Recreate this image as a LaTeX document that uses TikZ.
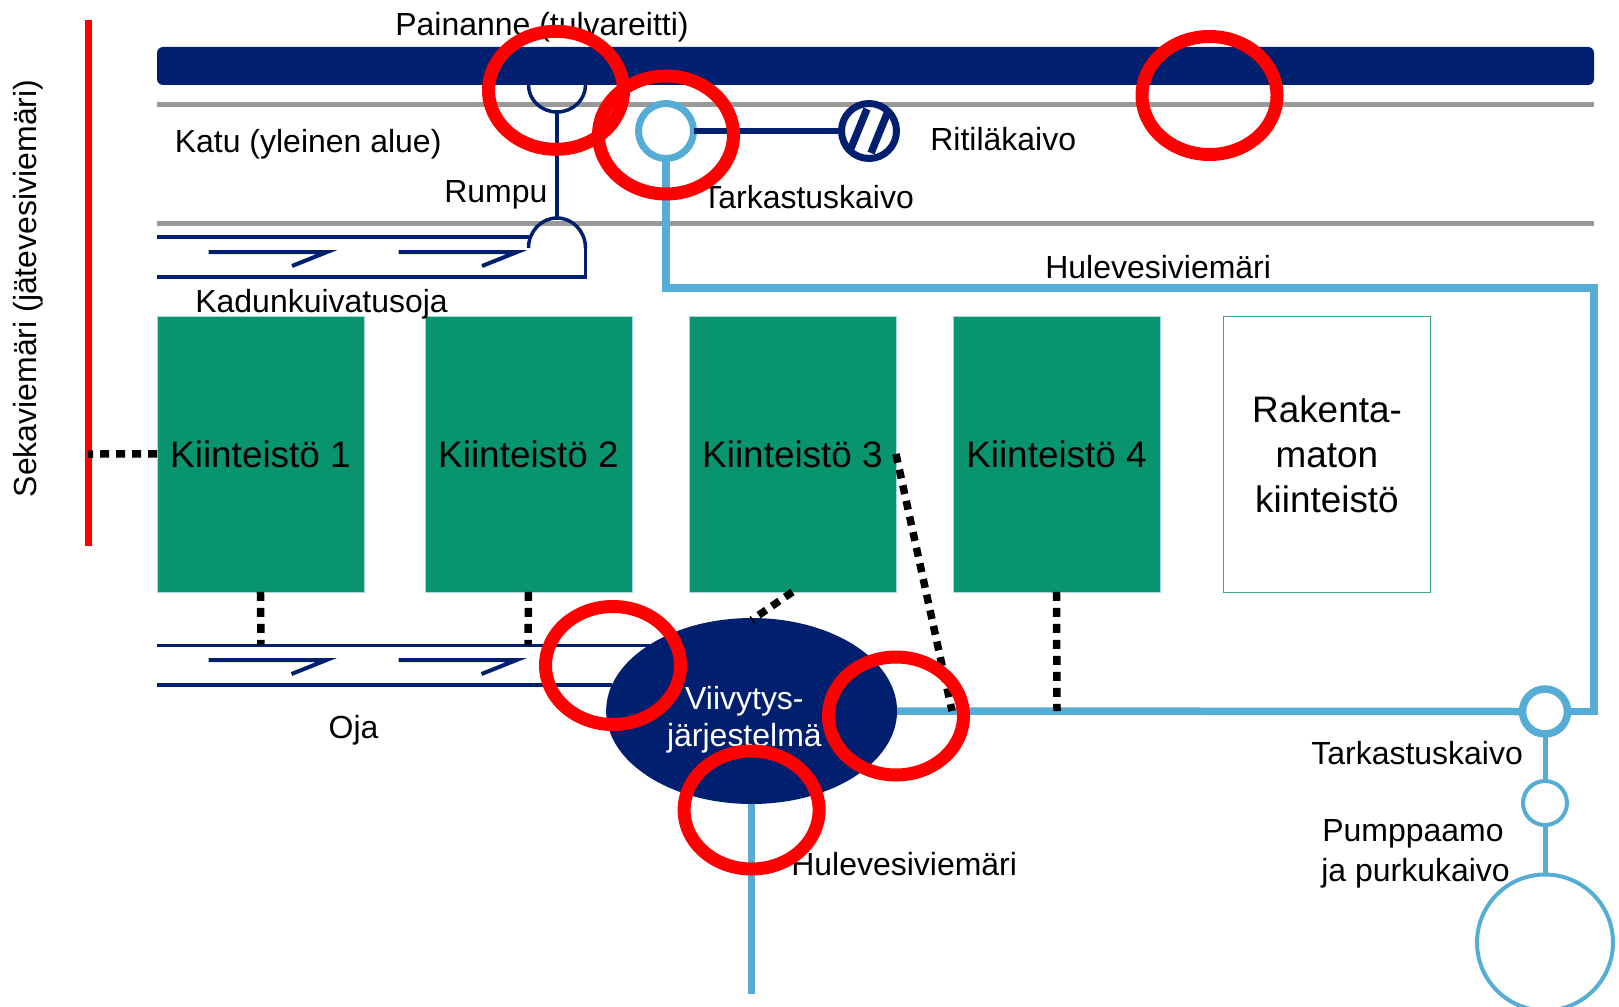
\documentclass[tikz,border=0pt]{standalone}
\usepackage{fontspec}
\setmainfont{Liberation Sans}
\usetikzlibrary{shapes.geometric}
\definecolor{navyblue}{HTML}{001F6E}
\definecolor{paleblue}{HTML}{55ADD5}
\definecolor{lotgreen}{HTML}{08946E}
\definecolor{lotedge}{HTML}{A5D8E0}
\definecolor{roadgray}{HTML}{999999}
\tikzset{
	caption/.style={inner sep=0pt,font=\fontsize{18.2}{21.2}\selectfont,text=black},
	lot/.style={rectangle,outer sep=0pt,inner sep=0pt,minimum width=4.14cm,minimum height=5.52cm,draw=#1,line width=0.4pt,font=\fontsize{21}{25.7}\selectfont,align=center},
	well/.style={circle,outer sep=0pt,inner sep=0pt,fill=white},
	road/.style={roadgray,line width=0.1cm},
	ditch/.style={navyblue,line width=0.07cm},
	flow/.style={navyblue,line width=0.08cm},
	pipe/.style={paleblue,line width=0.15cm},
	drain/.style={black,line width=0.15cm,dash pattern=on 0.18cm off 0.14cm},
	redring/.style={red,line width=0.26cm}
}
\begin{document}
\begin{tikzpicture}[x=0.02cm,y=-0.02cm]
	\useasboundingbox (0,0) rectangle (1619,1007);
	\fill[navyblue,rounded corners=0.12cm] (157,47) rectangle (1594,85);
	\draw[road] (157,105)--(1594,105);
	\draw[road] (157,223)--(1594,223);
	\draw[red,line width=0.14cm] (88,20)--(88,546);
	\node[caption,rotate=90] (sewer) at (28,288.5) {Sekaviemäri (jätevesiviemäri)};

	\node[lot=lotedge,fill=lotgreen,anchor=north west] (lot1) at (157,316) {Kiinteistö 1};
	\node[lot=lotedge,fill=lotgreen,anchor=north west] (lot2) at (425,316) {Kiinteistö 2};
	\node[lot=lotedge,fill=lotgreen,anchor=north west] (lot3) at (689,316) {Kiinteistö 3};
	\node[lot=lotedge,fill=lotgreen,anchor=north west] (lot4) at (953,316) {Kiinteistö 4};
	\node[lot=lotgreen!80,anchor=north west] (lot5) at (1223.5,316) {Rakenta-\\maton\\kiinteistö};

	\node[ellipse,outer sep=0pt,inner sep=0pt,fill=navyblue,minimum width=5.82cm,minimum height=3.72cm] (delay) at (751.6,711) {};
	\node[well,draw=paleblue,line width=0.14cm,minimum size=1.1cm] (well1) at (666,131) {};
	\node[well,draw=navyblue,line width=0.14cm,minimum size=1.1cm] (grate) at (869,131) {};
	\node[well,draw=paleblue,line width=0.15cm,minimum size=0.9cm] (well2) at (1545,711.5) {};
	\node[well,draw=paleblue,line width=0.08cm,minimum size=0.88cm] (pump) at (1545,803) {};
	\node[well,draw=paleblue,line width=0.08cm,minimum size=2.72cm] (outfall) at (1545,942.5) {};
	\draw[navyblue,line width=0.15cm] (849,153)--(867,109);
	\draw[navyblue,line width=0.15cm] (871,153)--(889,109);

	\draw[ditch] (528.5,85) arc (180:0:28.5 and 27);
	\draw[ditch] (528.5,248) arc (180:360:28.5 and 30);
	\draw[ditch] (585.5,248)--(585.5,277)--(157,277);
	\draw[ditch] (157,237)--(528.5,237);
	\coordinate (culverttop) at (557,112);
	\coordinate (culvertlow) at (557,218);
	\draw[ditch] (culverttop)--(culvertlow);
	\draw[flow] (208.5,252)--(327,252)--(292,266);
	\draw[flow] (398.5,252)--(517,252)--(482,266);

	\coordinate (oja1) at (650,645.7);
	\coordinate (oja2) at (612,685);
	\draw[ditch] (157,645.7)--(oja1);
	\draw[ditch] (157,685)--(oja2);
	\draw[flow] (208.5,660)--(326.5,660)--(291.5,674);
	\draw[flow] (398.5,660)--(516.5,660)--(481.5,674);

	\draw[navyblue,line width=0.14cm] (well1.east)--(grate.west);
	\coordinate (corner1) at (666,288);
	\coordinate (corner2) at (1594,288);
	\coordinate (corner3) at (1594,711.5);
	\draw[pipe,line join=miter] (well1.south)--(corner1)--(corner2)--(corner3)--(well2.east);
	\draw[pipe] (delay.east)--(well2.west);
	\draw[paleblue,line width=0.1cm] (well2.south)--(pump.north);
	\draw[paleblue,line width=0.1cm] (pump.south)--(outfall.north);
	\coordinate (stormend) at (751.6,994);
	\draw[paleblue,line width=0.13cm] (delay.south)--(stormend);

	\coordinate (sewerjoin) at (88,454);
	\coordinate (ojajoin1) at (261,645);
	\coordinate (ojajoin2) at (528,645);
	\coordinate (delayjoin) at (751.6,620);
	\coordinate (pipejoin1) at (952,711);
	\coordinate (pipejoin2) at (1057,711);
	\draw[drain] (lot1.west)--(sewerjoin);
	\draw[drain] (lot1.south)--(ojajoin1);
	\draw[drain] (lot2.south)--(ojajoin2);
	\draw[drain] (lot3.south)--(delayjoin);
	\draw[drain] (lot3.east)--(pipejoin1);
	\draw[drain] (lot4.south)--(pipejoin2);

	\node[caption] (lowland) at (542,27.5) {Painanne (tulvareitti)};
	\node[caption,anchor=west] (street) at (174.5,144) {Katu (yleinen alue)};
	\node[caption,anchor=west] (gratelabel) at (930,139.5) {Ritiläkaivo};
	\node[caption,anchor=west] (culvert) at (444,195) {Rumpu};
	\node[caption,anchor=west] (welllabel1) at (702,197.5) {Tarkastuskaivo};
	\node[caption,anchor=west] (storm1) at (1045,267) {Hulevesiviemäri};
	\node[caption,anchor=west] (roadditch) at (195,304) {Kadunkuivatusoja};
	\node[caption] (ditchlabel) at (353.6,730) {Oja};
	\node[caption,text=white,align=center] (delaylabel) at (744.4,719.5) {Viivytys-\\järjestelmä};
	\node[caption,anchor=west] (storm2) at (791,864) {Hulevesiviemäri};
	\node[caption,anchor=west] (welllabel2) at (1311,753) {Tarkastuskaivo};
	\node[caption,anchor=west] (pumplabel1) at (1322,834) {Pumppaamo};
	\node[caption,anchor=west] (pumplabel2) at (1321,873) {ja purkukaivo};

	\draw[redring] (556,90.3) ellipse (67.5 and 59);
	\draw[redring] (666,135) ellipse (67.5 and 59);
	\draw[redring] (1209.5,95.5) ellipse (67.5 and 59);
	\draw[redring] (613,665.5) ellipse (67.5 and 59);
	\draw[redring] (896,716) ellipse (67.5 and 59);
	\draw[redring] (751.6,810) ellipse (67.5 and 59);
\end{tikzpicture}
\end{document}
